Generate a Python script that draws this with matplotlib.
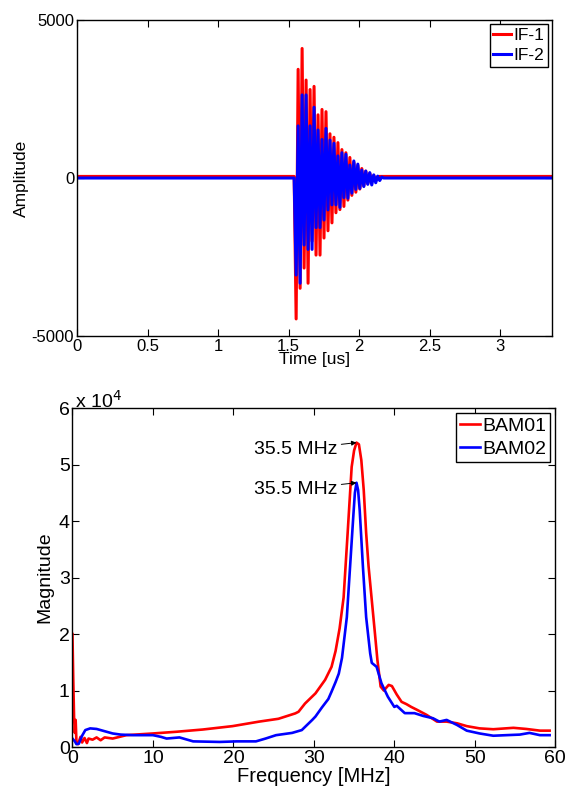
import numpy as np
import matplotlib
matplotlib.use("Agg")
import matplotlib.pyplot as plt

plt.rcParams["font.family"] = ["Liberation Sans", "DejaVu Sans"]
plt.rcParams["axes.unicode_minus"] = False

# ---- time signals (alternating extrema of the burst) ----
burst_start = 1.553   # us, first extremum
half_period = 0.0141  # us, ~35.5 MHz
t_max = 3.365

if1_peaks = [-4460, 3440, -3490, 4100, -2850, 3100, -3330, 2800, -2000, 2900,
             -2440, 2000, -2440, 2170, -1900, 2100, -1670, 1400, -1420, 1290,
             -1100, 1120, -1000, 900, -900, 800, -700, 650, -550, 500,
             -450, 400, -350, 300, -250, 220, -180, 150, -100, 80, -50, 40]
if2_peaks = [-3070, 1650, -3330, 2630, -2120, 2630, -2260, 1650, -2260, 2240,
             -1570, 1520, -1570, 1220, -1330, 1570, -1010, 1200, -850, 1100,
             -850, 700, -930, 800, -620, 750, -640, 410, -480, 540,
             -360, 440, -330, 250, -270, 220, -200, 170, -220, 100,
             -150, 60, -80, 30]
if1_base = 50
if2_base = 0

# ---- spectra ----
bam01_f = [0, 0.1, 0.2, 0.3, 0.4, 0.5, 0.7, 1.0, 1.2, 1.5, 1.8, 2.0, 2.5, 3.0,
           3.5, 4.0, 5.0, 6.7, 10.0, 12.9, 16.2, 19.9, 23.2, 25.6, 27.7, 28.1,
           28.9, 30.2, 31.4, 32.2, 32.7, 33.2, 33.7, 34.2, 34.7, 35.0, 35.3,
           35.6, 35.9, 36.2, 36.5, 36.8, 37.2, 37.6, 37.9, 38.3, 38.7, 39.3,
           39.7, 40.3, 40.9, 41.5, 42.1, 42.8, 44.0, 45.3, 46.5, 47.8, 49.0,
           50.6, 52.3, 54.8, 56.4, 58.1, 59.3]
bam01_mag = [20000, 12000, 5300, 2500, 4800, 700, 500, 1800, 800, 1600, 700,
             1500, 1300, 1700, 1200, 1700, 1500, 2100, 2400, 2700, 3100, 3700,
             4500, 5000, 5960, 6250, 7700, 9500, 11900, 14200, 17000, 21000,
             26500, 37900, 49600, 52500, 53900, 53600, 50800, 45500, 37900,
             32000, 26000, 20000, 15400, 10700, 10000, 11000, 10800, 9300,
             8000, 7600, 7100, 6600, 5700, 4500, 4500, 4200, 3700, 3300, 3150,
             3400, 3200, 2900, 2900]

bam02_f = [0, 0.3, 0.5, 0.8, 1.2, 1.6, 2.2, 3.0, 4.0, 5.0, 6.0, 7.6, 10.0, 11.0,
           11.7, 13.3, 15.0, 18.3, 20.4, 22.8, 24.0, 25.3, 27.3, 28.5, 29.8,
           30.2, 31.0, 31.8, 32.2, 32.7, 33.1, 33.5, 34.1, 34.5, 34.9, 35.1,
           35.3, 35.5, 35.7, 36.1, 36.5, 37.0, 37.2, 37.8, 38.4, 39.2, 40.0,
           40.3, 41.3, 42.5, 43.6, 44.8, 45.6, 46.5, 47.8, 49.0, 50.6, 52.3,
           53.9, 55.6, 56.8, 58.1, 59.3]
bam02_mag = [1500, 1000, 500, 600, 2000, 3000, 3300, 3200, 2800, 2400, 2200,
             2100, 2100, 1800, 1500, 1700, 1000, 900, 1000, 1000, 1500, 2100,
             2500, 3000, 4800, 5400, 7000, 8500, 9800, 11500, 13000, 15800,
             23000, 31900, 40800, 45000, 46800, 45500, 41900, 31900, 23000,
             16600, 14900, 14200, 11300, 8900, 7100, 7300, 6000, 6000, 5500,
             5100, 4500, 4800, 3900, 2900, 2400, 2000, 2100, 2200, 2500, 2100,
             2100]

peak_labels = ["35.5 MHz", "35.5 MHz"]
peak_f = [35.3, 35.3]
peak_mag = [53900, 46800]


def burst(peaks, base):
    t = burst_start + half_period * np.arange(len(peaks))
    t = np.concatenate([[0, t[0] - half_period], t, [t[-1] + half_period, t_max]])
    y = np.concatenate([[base, base], peaks, [base, base]])
    return t, y


def style_axes(ax, size):
    ax.tick_params(direction="in", top=True, right=True, length=5,
                   width=0.8, labelsize=size, pad=2)
    for s in ax.spines.values():
        s.set_linewidth(1.0)


def matlab_legend(ax, size):
    leg = ax.legend(loc="upper right", fontsize=size, handlelength=1.0,
                    handletextpad=0.15, borderpad=0.2, labelspacing=0.3,
                    borderaxespad=0.25, fancybox=False, framealpha=1)
    leg.get_frame().set_edgecolor("black")
    leg.get_frame().set_linewidth(1.0)
    return leg


fig = plt.figure(figsize=(5.66, 7.88), dpi=100)

# top: time domain
ax1 = fig.add_axes([0.136, 0.5736, 0.839, 0.401])
t1, y1 = burst(if1_peaks, if1_base)
t2, y2 = burst(if2_peaks, if2_base)
ax1.plot(t1, y1, color="#ff0000", linewidth=2.2, label="IF-1")
ax1.plot(t2, y2, color="#0000ff", linewidth=2.2, label="IF-2")
ax1.set_xlim(0, t_max)
ax1.set_ylim(-5000, 5000)
ax1.set_xticks([0, 0.5, 1, 1.5, 2, 2.5, 3])
ax1.set_xticklabels(["0", "0.5", "1", "1.5", "2", "2.5", "3"])
ax1.set_yticks([-5000, 0, 5000])
ax1.set_xlabel("Time [us]", fontsize=12.5, labelpad=-1)
ax1.set_ylabel("Amplitude", fontsize=12.5, labelpad=2)
style_axes(ax1, 12)
matlab_legend(ax1, 12.5)

# bottom: spectrum
ax2 = fig.add_axes([0.128, 0.052, 0.853, 0.430])
ax2.plot(bam01_f, bam01_mag, color="#ff0000", linewidth=1.9, label="BAM01")
ax2.plot(bam02_f, bam02_mag, color="#0000ff", linewidth=1.9, label="BAM02")
ax2.set_xlim(0, 60)
ax2.set_ylim(0, 60000)
ax2.set_xticks(range(0, 61, 10))
ax2.set_yticks(range(0, 60001, 10000))
ax2.set_yticklabels([str(v) for v in range(7)])
ax2.set_xlabel("Frequency [MHz]", fontsize=14.5, labelpad=0)
ax2.set_ylabel("Magnitude", fontsize=14, labelpad=4)
style_axes(ax2, 14)
ax2.text(0.005, 0.99, r"x 10$^{4}$", transform=ax2.transAxes,
         fontsize=14, ha="left", va="bottom")
for lab, f, m in zip(peak_labels, peak_f, peak_mag):
    ax2.annotate(lab, xy=(f, m), xytext=(f - 2.4, m - 1200),
                 fontsize=14, ha="right", va="center",
                 arrowprops=dict(arrowstyle="-|>", color="black", lw=0.7,
                                 mutation_scale=7, shrinkA=1, shrinkB=0))
matlab_legend(ax2, 14)

fig.savefig("out.png", dpi=100)
